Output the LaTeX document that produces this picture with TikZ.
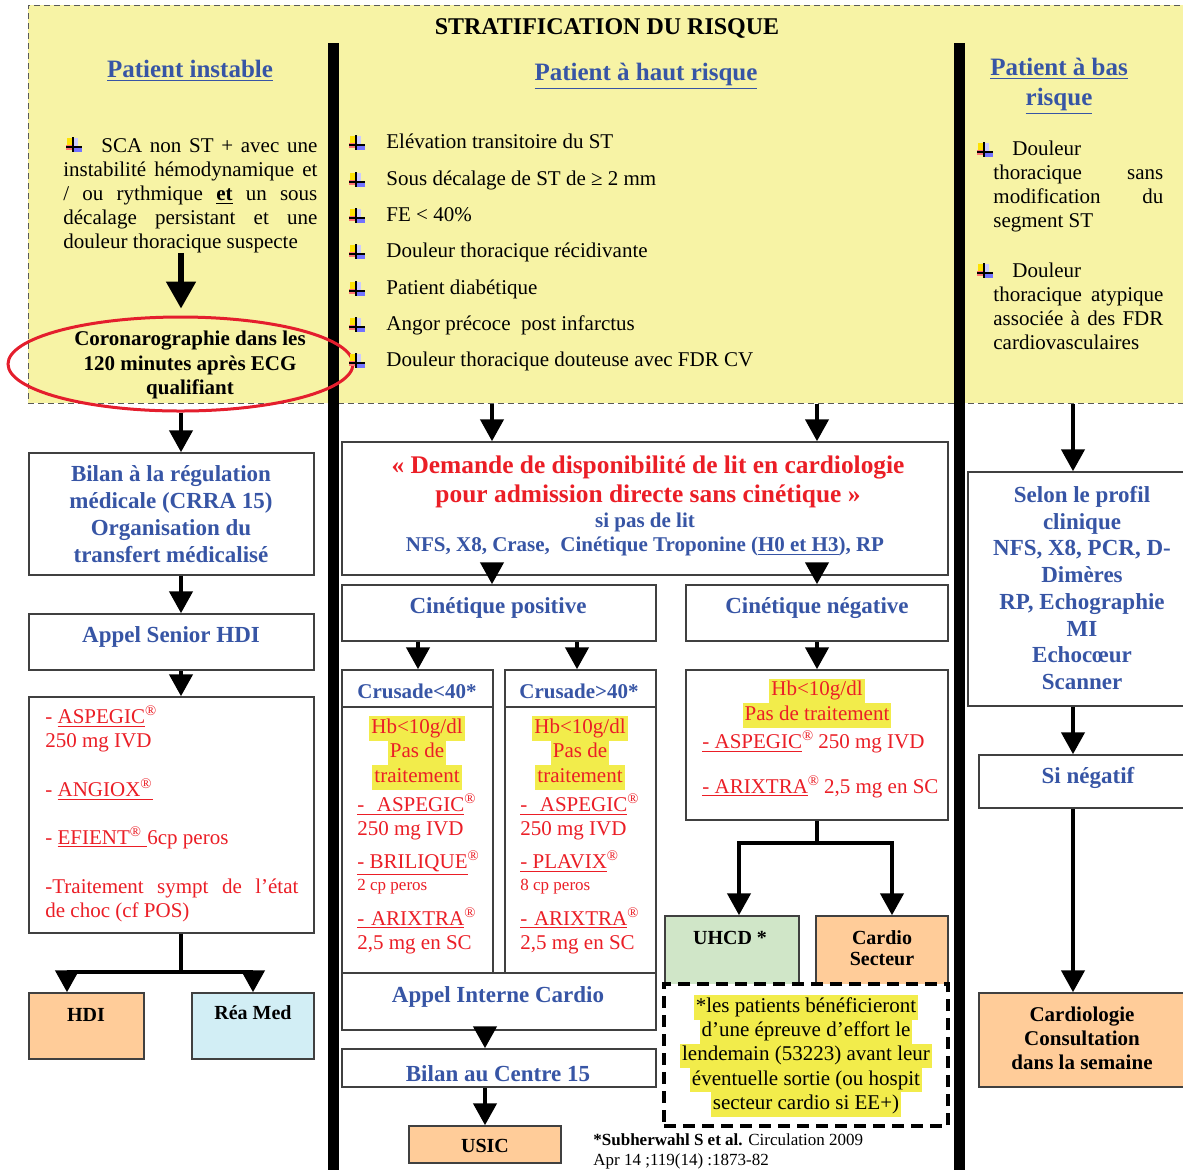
\documentclass[tikz,border=0pt]{standalone}
\usepackage{fontspec}
\setmainfont{Liberation Serif}
\usetikzlibrary{arrows.meta,fit,shapes.geometric}

\definecolor{bluetxt}{RGB}{55,85,165}
\definecolor{redtxt}{RGB}{235,30,38}
\definecolor{yellowbg}{RGB}{247,243,165}
\definecolor{hlyel}{RGB}{242,236,75}
\definecolor{peach}{RGB}{255,204,153}
\definecolor{paleblue}{RGB}{210,238,245}
\definecolor{palegreen}{RGB}{208,230,200}
\definecolor{ovalred}{RGB}{228,30,45}

\newcommand{\szbody}{\fontsize{10.5}{12}\selectfont}
\newcommand{\szhl}{\fontsize{10.5}{12.25}\selectfont}
\newcommand{\szbox}{\fontsize{11.5}{13.5}\selectfont}
\newcommand{\szhead}{\fontsize{12.5}{15}\selectfont}
\newcommand{\sztitle}{\fontsize{12}{14}\selectfont}
\newcommand{\szred}{\fontsize{12.7}{14.5}\selectfont}
\newcommand{\szsmall}{\fontsize{8.5}{10}\selectfont}
\newcommand{\szlab}{\fontsize{10}{10.5}\selectfont}
\newcommand{\reg}{\textsuperscript{®}}
\newcommand{\jl}[2]{\makebox[#1][s]{#2}}
\newcommand{\hl}[1]{{\setlength{\fboxsep}{0pt}\colorbox{hlyel}{\strut\hspace{1pt}#1\hspace{1pt}}}}

\begin{document}
\begin{tikzpicture}[x=0.5pt, y=-0.5pt,
  zone/.style={fill=yellowbg, draw=black!65, dash pattern=on 3pt off 2pt, line width=0.5pt, inner sep=0pt},
  titre/.style={font=\sztitle\bfseries, inner sep=0pt},
  tete/.style={font=\szhead\bfseries, text=bluetxt, inner sep=0pt},
  corps/.style={font=\szbody, align=left, inner sep=0pt},
  rouge/.style={corps, text=redtxt},
  hltxt/.style={font=\szhl, text=redtxt, align=center, inner sep=0pt},
  btxt/.style={font=\szbox\bfseries, text=bluetxt, align=center, inner sep=0pt},
  ntxt/.style={font=\szlab\bfseries, align=center, inner sep=0pt},
  box/.style={draw=black!75, line width=0.75pt, fill=white, inner sep=0pt},
  peachbox/.style={box, fill=peach},
  tirets/.style={box, draw=black, line width=2pt, dash pattern=on 6pt off 3.5pt},
  barre/.style={line width=5.5pt},
  ovale/.style={ellipse, draw=ovalred, line width=1.5pt, inner sep=0pt},
  arr/.style={line width=2.2pt, -{Triangle[width=11.5pt,length=11pt]}},
  arrbig/.style={line width=2.6pt, -{Triangle[width=14.5pt,length=13.5pt]}},
  ln/.style={line width=2.2pt},
  puce/.pic={
    \fill[yellow!85!orange] (-6,-9) rectangle (-1,-1);
    \fill[red!55] (-7,-2) rectangle (-1,3);
    \fill[blue!20] (1,-9) rectangle (5,-1);
    \fill[blue!55] (1,1) rectangle (9,5);
    \draw[line width=0.8pt] (0,-10) -- (0,5);
    \draw[line width=0.8pt] (-7,0) -- (9,0);
  }]
\useasboundingbox (0,0) rectangle (1183,1169);

% stratification zone
\node[zone, fit={(28,5) (1195,403)}] (strat) {};
\node[titre] (titre) at (607,28) {STRATIFICATION DU RISQUE};
\draw[barre] (333,43) -- (333,1180);
\draw[barre] (959,43) -- (959,1180);
\node[tete] (t-inst) at (190,71) {\underline{Patient instable}};
\node[tete] (t-haut) at (646,76) {\underline{Patient à haut risque}};
\node[tete, align=center] (t-bas) at (1059,86) {\underline{Patient à bas}\\\underline{risque}};

% patient instable (base = last line)
\pic at (73,147) {puce};
\node[corps, anchor=base west] (p-inst) at (63,248) {\jl{127pt}{\hspace*{19pt}SCA non ST + avec une}\\
  \jl{127pt}{instabilité hémodynamique et}\\
  \jl{127pt}{/ ou rythmique \underline{\textbf{et}} un sous}\\
  \jl{127pt}{décalage persistant et une}\\
  douleur thoracique suspecte};
\node[ovale, minimum width=172.5pt, minimum height=47pt] (coro) at (180.5,364) {};
\node[ntxt, font=\szhl\bfseries] (coro-t) at (190,365) {Coronarographie dans les\\120 minutes après ECG\\qualifiant};

% patient a haut risque
\foreach \yy/\txt [count=\i] in {143/Elévation transitoire du ST, 180/Sous décalage de ST de ≥ 2 mm,
    216/FE < 40\%, 252/Douleur thoracique récidivante, 289/Patient diabétique,
    325/Angor précoce\ \ post infarctus, 361/Douleur thoracique douteuse avec FDR CV}{
  \pic at (356,\yy+2) {puce};
  \node[corps, anchor=base west] (hr\i) at (386,\yy+5) {\txt};
}

% patient a bas risque
\pic at (984,152) {puce};
\node[corps, anchor=base west] (rb1) at (993,227) {\hspace*{9.5pt}Douleur\\
  \jl{85pt}{thoracique sans}\\ \jl{85pt}{modification du}\\ segment ST};
\pic at (984,273) {puce};
\node[corps, anchor=base west] (rb2) at (993,349) {\hspace*{9.5pt}Douleur\\
  \jl{85pt}{thoracique atypique}\\ \jl{85pt}{associée à des FDR}\\ cardiovasculaires};

% left column
\node[box, fit={(29,453) (314,575)}] (bilan) {};
\node[btxt] (bilan-t) at (171,514) {Bilan à la régulation\\médicale (CRRA 15)\\Organisation du\\transfert médicalisé};
\node[box, fit={(29,614) (314,670)}] (senior) {};
\node[btxt] (senior-t) at (171,637) {Appel Senior HDI};
\node[box, fit={(29,697) (314,933)}] (liste) {};
\node[rouge, anchor=base west] (liste-t) at (45,917) {- \underline{ASPEGIC}\reg\\250 mg IVD\\[12.5pt]
  - \underline{ANGIOX\reg}\\[12pt]
  - \underline{EFIENT\reg\ }6cp peros\\[12.5pt]
  \jl{126.5pt}{-Traitement sympt de l’état}\\de choc (cf POS)};
\node[peachbox, fit={(29,993) (144,1059)}] (hdi) {};
\node[ntxt] (hdi-t) at (86,1015) {HDI};
\node[box, fill=paleblue, fit={(192,993) (314,1059)}] (rea) {};
\node[ntxt] (rea-t) at (253,1013) {Réa Med};

% middle column
\node[box, fit={(342,442) (948,575)}] (demande) {};
\node[align=center, inner sep=0pt, font=\szred\bfseries, text=redtxt] (dem-r) at (648,482)
  {« Demande de disponibilité de lit en cardiologie\\pour admission directe sans cinétique »};
\node[align=center, inner sep=0pt, font=\szbody\bfseries, text=bluetxt] (dem-b) at (645,534)
  {si pas de lit\\NFS, X8, Crase,\ \ Cinétique Troponine (\underline{H0 et H3}), RP};
\node[box, fit={(342,585) (656,641)}] (cinpos) {};
\node[btxt] (cinpos-t) at (498,608) {Cinétique positive};
\node[box, fit={(686,585) (948,641)}] (cinneg) {};
\node[btxt] (cinneg-t) at (817,608) {Cinétique négative};

\node[box, fit={(342,670) (493,707)}] (crh1) {};
\node[btxt, font=\szbody\bfseries] (crh1-t) at (417,691) {Crusade<40*};
\node[box, fit={(342,707) (493,973)}] (cr1) {};
\node[hltxt] (c1-hl) at (417,753) {\hl{Hb<10g/dl}\\\hl{Pas de}\\\hl{traitement}};
\node[rouge, anchor=base west] (c1-l) at (357,949) {\underline{\jl{53.5pt}{- ASPEGIC}}\reg\\250 mg IVD\\[4.5pt]
  \underline{- BRILIQUE}\reg\\[-1pt] {\szsmall 2 cp peros}\\[5.5pt]
  \underline{\jl{53.5pt}{- ARIXTRA}}\reg\\2,5 mg en SC};
\node[box, fit={(505,670) (656,707)}] (crh2) {};
\node[btxt, font=\szbody\bfseries] (crh2-t) at (579,691) {Crusade>40*};
\node[box, fit={(505,707) (656,973)}] (cr2) {};
\node[hltxt] (c2-hl) at (580,753) {\hl{Hb<10g/dl}\\\hl{Pas de}\\\hl{traitement}};
\node[rouge, anchor=base west] (c2-l) at (520,949) {\underline{\jl{53.5pt}{- ASPEGIC}}\reg\\250 mg IVD\\[4.5pt]
  \underline{- PLAVIX}\reg\\[-1pt] {\szsmall 8 cp peros}\\[5.5pt]
  \underline{\jl{53.5pt}{- ARIXTRA}}\reg\\2,5 mg en SC};

\node[box, fit={(342,973) (656,1030)}] (appel) {};
\node[btxt] (appel-t) at (498,997) {Appel Interne Cardio};
\node[box, fit={(342,1049) (656,1087)}] (bilanc) {};
\node[btxt] (bilanc-t) at (498,1074) {Bilan au Centre 15};
\node[peachbox, fit={(409,1126) (561,1163)}] (usic) {};
\node[ntxt] (usic-t) at (485,1146) {USIC};

\node[box, fit={(686,670) (948,820)}] (neg) {};
\node[hltxt] (neg-hl) at (817,703) {\hl{Hb<10g/dl}\\\hl{Pas de traitement}};
\node[rouge, anchor=base west] (neg-l) at (702,793) {\underline{- ASPEGIC}\reg\hspace{2pt}250 mg IVD\\[10.5pt]
  \underline{- ARIXTRA}\reg\hspace{2pt}2,5 mg en SC};
\node[box, fill=palegreen, fit={(665,916) (799,985)}] (uhcd) {};
\node[ntxt] (uhcd-t) at (730,938) {UHCD *};
\node[peachbox, fit={(816,916) (948,985)}] (csect) {};
\node[ntxt] (csect-t) at (882,948) {Cardio\\Secteur};
\node[tirets, fit={(664,984) (948,1126)}] (note) {};
\node[align=center, inner sep=0pt, font=\fontsize{10.5}{12.15}\selectfont] (note-t) at (806,1056)
  {\hl{*les patients bénéficieront}\\\hl{d’une épreuve d’effort le}\\\hl{lendemain (53223) avant leur}\\
   \hl{éventuelle sortie (ou hospit}\\\hl{secteur cardio si EE+)}};
\node[align=left, inner sep=0pt, font=\szsmall, anchor=base west] (ref-t) at (593,1165)
  {\textbf{*Subherwahl S et al.} Circulation 2009\\Apr 14 ;119(14) :1873-82};

% right column
\node[box, fit={(968,472) (1195,706)}] (selon) {};
\node[btxt, font=\fontsize{11.5}{13.35}\selectfont\bfseries] (selon-t) at (1082,588)
  {Selon le profil\\clinique\\NFS, X8, PCR, D-\\Dimères\\RP, Echographie\\MI\\Echocœur\\Scanner};
\node[box, fit={(979,755) (1195,808)}] (sineg) {};
\node[btxt] (sineg-t) at (1088,778) {Si négatif};
\node[peachbox, fit={(979,993) (1195,1087)}] (cardio) {};
\node[ntxt, font=\fontsize{10.5}{12}\selectfont\bfseries] (cardio-t) at (1082,1038) {Cardiologie\\Consultation\\dans la semaine};

% arrows
\coordinate (lx) at (181,0);   \coordinate (hdiA) at (67,0);
\coordinate (mA) at (492,0);   \coordinate (mB) at (817,0);
\coordinate (mC) at (418,0);   \coordinate (mD) at (577,0);
\coordinate (cA) at (485,0);   \coordinate (rA) at (1073,0);
\coordinate (uA) at (739,0);   \coordinate (csA) at (892,0);
\coordinate (brL) at (181,972); \coordinate (brM) at (817,843);

\draw[arrbig, shorten >=3.5pt] (p-inst.south -| lx) -- (coro.north -| lx);
\draw[arr] (coro.south -| lx) -- (bilan.north -| lx);
\draw[arr] (bilan.south -| lx) -- (senior.north -| lx);
\draw[arr] (senior.south -| lx) -- (liste.north -| lx);
\draw[ln] (liste.south -| lx) -- (brL);
\draw[arr] (brL) -| (hdi.north -| hdiA);
\draw[arr] (brL) -| (rea.north);

\draw[arr] (strat.south -| mA) -- (demande.north -| mA);
\draw[arr] (strat.south -| mB) -- (demande.north -| mB);
\draw[arr] (demande.south -| mA) -- (cinpos.north -| mA);
\draw[arr] (demande.south -| mB) -- (cinneg.north -| mB);
\draw[arr] (cinpos.south -| mC) -- (crh1.north -| mC);
\draw[arr] (cinpos.south -| mD) -- (crh2.north -| mD);
\draw[arr] (cinneg.south -| mB) -- (neg.north -| mB);
\draw[ln] (neg.south -| brM) -- (brM);
\draw[arr] (brM) -| (uhcd.north -| uA);
\draw[arr] (brM) -| (csect.north -| csA);
\draw[arr] (appel.south -| cA) -- (bilanc.north -| cA);
\draw[arr] (bilanc.south -| cA) -- (usic.north -| cA);

\draw[arr] (strat.south -| rA) -- (selon.north -| rA);
\draw[arr] (selon.south -| rA) -- (sineg.north -| rA);
\draw[arr] (sineg.south -| rA) -- (cardio.north -| rA);
\end{tikzpicture}
\end{document}
